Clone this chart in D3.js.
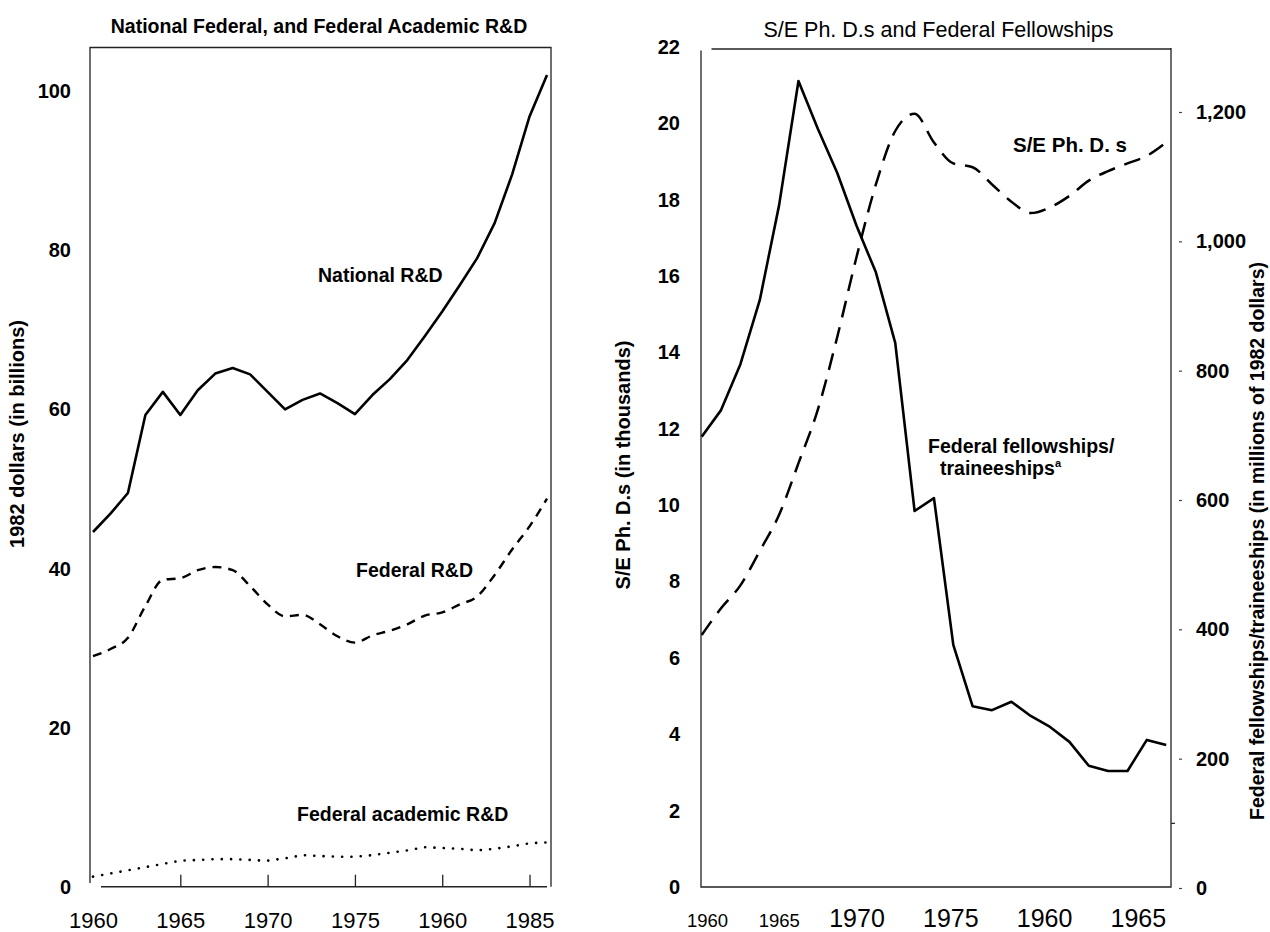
<!DOCTYPE html>
<html>
<head>
<meta charset="utf-8">
<script src="https://cdn.jsdelivr.net/npm/d3@7"></script>
<style>
  body { margin: 0; background: #fff; }
  svg { display: block; }
  text { font-family: "Liberation Sans", Arial, Helvetica, sans-serif; fill: #000; }
</style>
</head>
<body>
<svg id="chart" width="1270" height="932"></svg>
<script>
// ---- Left panel: R&D spending, billions of 1982 dollars ----
const rdYears = d3.range(1960, 1987);
const nationalRD = [44.6, 46.9, 49.5, 59.3, 62.2, 59.3, 62.4, 64.5, 65.2, 64.4, 62.2, 60.0, 61.2,
                    62.0, 60.8, 59.4, 61.8, 63.8, 66.2, 69.2, 72.3, 75.6, 79.0, 83.4, 89.5, 96.8, 102.0];
const federalRD  = [29.0, 29.9, 31.3, 35.3, 38.6, 38.8, 39.8, 40.2, 39.8, 37.8, 35.5, 34.0, 34.2,
                    33.0, 31.5, 30.7, 31.6, 32.2, 33.0, 34.1, 34.5, 35.5, 36.5, 39.2, 42.4, 45.3, 48.8];
const academicRD = [1.3, 1.7, 2.1, 2.5, 2.9, 3.3, 3.4, 3.5, 3.5, 3.4, 3.3, 3.6, 4.0,
                    3.9, 3.8, 3.8, 4.0, 4.3, 4.6, 5.0, 4.9, 4.8, 4.6, 4.8, 5.1, 5.5, 5.6];
const rdValueTicks = [0, 20, 40, 60, 80, 100];
const rdYearTicks = [1960, 1965, 1970, 1975, 1980, 1985];
const rdYearLabels = ["1960", "1965", "1970", "1975", "1960", "1985"];

// ---- Right panel: S/E Ph.D.s and federal fellowships ----
const phdYears = d3.range(1962, 1987);
const sePhDs = [6.6, 7.3, 7.9, 8.8, 9.75, 11.1, 12.5, 14.4, 16.5, 18.4, 19.8, 20.25, 19.5,
                18.95, 18.85, 18.4, 17.95, 17.65, 17.8, 18.1, 18.5, 18.75, 18.95, 19.15, 19.5];
const fellowships = [698, 739, 810, 909, 1056, 1248, 1174, 1106, 1024, 952, 843, 583, 603,
                     376, 281, 275, 288, 266, 249, 226, 189, 181, 181, 229, 221];
const phdTicks = d3.range(0, 23, 2);
const fundTicks = [0, 200, 400, 600, 800, 1000, 1200];
const phdYearTicks = [1960, 1965, 1970, 1975, 1980, 1985];
const phdYearLabels = ["1960", "1965", "1970", "1975", "1960", "1965"];

const svg = d3.select("#chart");
const FRAME = "#222";

// ================= Left panel =================
const L = { left: 90, right: 551, top: 47.5, bottom: 886.7 };
const xL = d3.scaleLinear().domain([1960, 1986]).range([93, 547]);
const yL = d3.scaleLinear().domain([0, 100]).range([887, 91]);

const gl = svg.append("g");
gl.append("defs").append("clipPath").attr("id", "clipL")
  .append("rect").attr("x", L.left).attr("y", L.top)
  .attr("width", L.right - L.left).attr("height", L.bottom - L.top);

// frame
gl.append("path").attr("fill", "none").attr("stroke", FRAME).attr("stroke-width", 1.3)
  .attr("d", `M${L.left},883 V${L.top} H${L.right} V${L.bottom}`);

// value axis
const axL = gl.append("g").attr("transform", `translate(${L.left},0)`)
  .call(d3.axisLeft(yL).tickValues(rdValueTicks).tickSize(0).tickPadding(19));
axL.select(".domain").remove();
axL.selectAll("text").attr("font-size", 20).attr("font-weight", "bold")
  .style("font-family", "'Liberation Sans', Arial, sans-serif");

// year axis with upward ticks
const axLB = gl.append("g").attr("transform", `translate(0,${L.bottom})`)
  .call(d3.axisBottom(xL).tickValues(rdYearTicks)
    .tickFormat((d, i) => rdYearLabels[i]).tickSizeInner(-12).tickSizeOuter(0));
axLB.select(".domain").attr("d", `M101,0H547`).attr("stroke", FRAME).attr("stroke-width", 1.5);
axLB.selectAll(".tick line").attr("stroke", FRAME).attr("stroke-width", 1.3)
  .filter(d => d === 1960).remove();
axLB.selectAll("text").attr("font-size", 22).attr("y", 41.5).attr("dy", null)
  .style("font-family", "'Liberation Sans', Arial, sans-serif");

const lineL = data => d3.line().x((d, i) => xL(rdYears[i])).y(d => yL(d))(data);
const plotL = gl.append("g").attr("clip-path", "url(#clipL)");
plotL.append("path").attr("d", lineL(nationalRD)).attr("fill", "none")
  .attr("stroke", "#000").attr("stroke-width", 2.6).attr("stroke-linejoin", "round");
plotL.append("path")
  .attr("d", d3.line().x((d, i) => xL(rdYears[i])).y(d => yL(d)).curve(d3.curveMonotoneX)(federalRD))
  .attr("fill", "none").attr("stroke", "#000").attr("stroke-width", 2.4)
  .attr("stroke-dasharray", "9,7");
plotL.append("path").attr("d", lineL(academicRD)).attr("fill", "none")
  .attr("stroke", "#000").attr("stroke-width", 2.6).attr("stroke-linecap", "round")
  .attr("stroke-dasharray", "0.1,9.2");

// titles and series labels
gl.append("text").attr("x", 319).attr("y", 33).attr("text-anchor", "middle")
  .attr("font-size", 19.5).attr("font-weight", "bold")
  .text("National Federal, and Federal Academic R&D");
gl.append("text").attr("x", 318).attr("y", 281.5).attr("font-size", 19.5).attr("font-weight", "bold")
  .text("National R&D");
gl.append("text").attr("x", 356).attr("y", 577).attr("font-size", 19.5).attr("font-weight", "bold")
  .text("Federal R&D");
gl.append("text").attr("x", 297).attr("y", 821).attr("font-size", 19.5).attr("font-weight", "bold")
  .text("Federal academic R&D");
gl.append("text").attr("transform", "translate(17,434) rotate(-90)")
  .attr("text-anchor", "middle").attr("dy", "0.35em")
  .attr("font-size", 20).attr("font-weight", "bold")
  .text("1982 dollars (in billions)");

// ================= Right panel =================
const R = { left: 701, right: 1171, top: 49, bottom: 887 };
const xR = d3.scaleLinear().domain([1962, 1986]).range([701.7, 1166.2]);
const yR = d3.scaleLinear().domain([0, 22]).range([887, 47]);
const yF = d3.scaleLinear().domain([0, 1200]).range([888, 112]);

const gr = svg.append("g");
gr.append("defs").append("clipPath").attr("id", "clipR")
  .append("rect").attr("x", R.left).attr("y", R.top)
  .attr("width", R.right - R.left).attr("height", R.bottom - R.top);

// frame
gr.append("path").attr("fill", "none").attr("stroke", FRAME).attr("stroke-width", 1.3)
  .attr("d", `M${R.left},50.5 V${R.bottom} H${R.right} V${R.top - 1}`);
gr.append("path").attr("fill", "none").attr("stroke", FRAME).attr("stroke-width", 1.5)
  .attr("d", `M711.5,${R.top} H${R.right}`);
// minor tick on the right border
gr.append("line").attr("x1", R.right).attr("x2", R.right + 4)
  .attr("y1", yF(100)).attr("y2", yF(100)).attr("stroke", FRAME).attr("stroke-width", 1.2);

// left value axis (thousands of Ph.D.s)
const axR = gr.append("g").attr("transform", `translate(${R.left},0)`)
  .call(d3.axisLeft(yR).tickValues(phdTicks).tickSize(0).tickPadding(21));
axR.select(".domain").remove();
axR.selectAll("text").attr("font-size", 20).attr("font-weight", "bold")
  .style("font-family", "'Liberation Sans', Arial, sans-serif");

// right value axis (millions of dollars)
const axF = gr.append("g").attr("transform", `translate(1179,0)`)
  .call(d3.axisRight(yF).tickValues(fundTicks).tickFormat(d3.format(",")).tickSize(3).tickPadding(14));
axF.select(".domain").remove();
axF.selectAll(".tick line").attr("stroke", "#444").attr("stroke-width", 1.2);
axF.selectAll("text").attr("font-size", 20).attr("font-weight", "bold")
  .style("font-family", "'Liberation Sans', Arial, sans-serif");

// year axis labels (no tick marks drawn)
const labelShift = [44, 19, 0, -3, -6, -9];
const labelSize = [18.5, 18.5, 25, 25, 25, 25];
const axRB = gr.append("g").attr("transform", `translate(0,${R.bottom})`)
  .call(d3.axisBottom(xR).tickValues(phdYearTicks).tickFormat((d, i) => phdYearLabels[i]).tickSize(0));
axRB.select(".domain").remove();
axRB.selectAll("text")
  .attr("font-size", (d, i) => labelSize[i])
  .attr("dx", (d, i) => labelShift[i])
  .attr("y", 39.5).attr("dy", null)
  .style("font-family", "'Liberation Sans', Arial, sans-serif");

const plotR = gr.append("g").attr("clip-path", "url(#clipR)");
plotR.append("path")
  .attr("d", d3.line().x((d, i) => xR(phdYears[i])).y(d => yF(d))(fellowships))
  .attr("fill", "none").attr("stroke", "#000").attr("stroke-width", 2.6).attr("stroke-linejoin", "round");
plotR.append("path")
  .attr("d", d3.line().x((d, i) => xR(phdYears[i])).y(d => yR(d)).curve(d3.curveMonotoneX)(sePhDs))
  .attr("fill", "none").attr("stroke", "#000").attr("stroke-width", 2.5)
  .attr("stroke-dasharray", "17,10");

// titles and series labels
gr.append("text").attr("x", 938.5).attr("y", 36.5).attr("text-anchor", "middle")
  .attr("font-size", 21.5).text("S/E Ph. D.s and Federal Fellowships");
gr.append("text").attr("x", 1013).attr("y", 151.5).attr("font-size", 20.5).attr("font-weight", "bold")
  .text("S/E Ph. D. s");
gr.append("text").attr("x", 928).attr("y", 453).attr("font-size", 19.5).attr("font-weight", "bold")
  .text("Federal fellowships/");
const tr = gr.append("text").attr("x", 940).attr("y", 475).attr("font-size", 19.5).attr("font-weight", "bold");
tr.append("tspan").text("traineeships");
tr.append("tspan").attr("font-size", 11).attr("dy", -8).text("a");
gr.append("text").attr("transform", "translate(623,465) rotate(-90)")
  .attr("text-anchor", "middle").attr("dy", "0.35em")
  .attr("font-size", 20).attr("font-weight", "bold")
  .text("S/E Ph. D.s (in thousands)");
gr.append("text").attr("transform", "translate(1257,541) rotate(-90)")
  .attr("text-anchor", "middle").attr("dy", "0.35em")
  .attr("font-size", 19.5).attr("font-weight", "bold")
  .text("Federal fellowships/traineeships (in millions of 1982 dollars)");
</script>
</body>
</html>
